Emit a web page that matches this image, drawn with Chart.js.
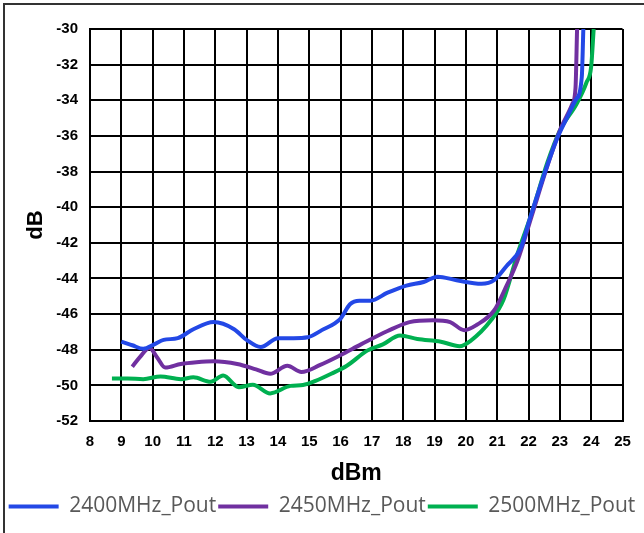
<!DOCTYPE html>
<html lang="en">
<head>
  <meta charset="UTF-8" />
  <title>dB vs dBm</title>
  <style>
    html, body {
      margin: 0;
      background: #ffffff;
    }
    .wrap {
      width: 644px;
      height: 533px;
    }
  </style>
</head>
<body>
  <div class="wrap">
    <canvas id="grafico" width="644" height="533"></canvas>
  </div>

  <script src="https://cdn.jsdelivr.net/npm/chart.js"></script>
  <script>
    // values
    const seriesNames = ['2400MHz_Pout', '2450MHz_Pout', '2500MHz_Pout'];

    const x2400 = [9.0, 9.35, 9.7, 10.05, 10.35, 10.8, 11.3, 11.95, 12.6, 13.0, 13.45, 14.0, 14.5, 14.95, 15.4, 16.0, 16.3, 16.6, 16.95, 17.5, 18.1, 18.65, 19.1, 19.7, 20.5, 20.9, 21.3, 21.75, 22.05, 22.55, 22.9, 23.25, 23.5, 23.7, 23.75];
    const y2400 = [-47.55, -47.75, -47.95, -47.7, -47.45, -47.35, -46.85, -46.45, -46.85, -47.45, -47.85, -47.35, -47.35, -47.3, -46.9, -46.25, -45.45, -45.25, -45.25, -44.8, -44.4, -44.2, -43.9, -44.1, -44.3, -44.1, -43.3, -42.3, -40.6, -37.9, -36.2, -34.9, -34.0, -32.7, -30];

    const x2450 = [9.35, 9.6, 9.9, 10.15, 10.4, 10.9, 11.4, 11.95, 12.7, 13.3, 13.75, 14.3, 14.75, 15.35, 16.0, 16.65, 17.5, 18.2, 18.95, 19.5, 19.95, 20.35, 20.9, 21.3, 21.65, 22.1, 22.6, 23.0, 23.4, 23.5, 23.55];
    const y2450 = [-48.95, -48.4, -47.9, -48.45, -49.0, -48.8, -48.7, -48.65, -48.8, -49.1, -49.35, -48.9, -49.25, -48.85, -48.3, -47.7, -46.95, -46.45, -46.35, -46.45, -46.9, -46.6, -45.8, -44.4, -43.0, -40.5, -37.7, -35.7, -34.2, -33.3, -30];

    const x2500 = [8.7, 9.2, 9.7, 10.25, 10.9, 11.3, 11.85, 12.25, 12.75, 13.2, 13.75, 14.4, 14.8, 15.2, 15.7, 16.2, 16.85, 17.35, 17.9, 18.45, 19.2, 19.8, 20.15, 20.8, 21.2, 21.65, 22.1, 22.6, 23.0, 23.55, 23.85, 24.0, 24.08];
    const y2500 = [-49.62, -49.62, -49.65, -49.5, -49.65, -49.55, -49.8, -49.45, -50.1, -49.97, -50.45, -50.03, -49.98, -49.75, -49.35, -48.9, -48.05, -47.7, -47.2, -47.4, -47.55, -47.8, -47.5, -46.35, -45.2, -42.6, -40.35, -37.5, -35.7, -34.15, -33.0, -32.1, -30];

    const xRange = [8, 25];
    const yRange = [-52, -30];

    const cores = ['#2348e6', '#7030a0', '#00b050'];

    const pontos = (xs, ys) => xs.map((x, i) => ({ x, y: ys[i] }));

    const serie = (nome, xs, ys, cor) => ({
      label: nome,
      data: pontos(xs, ys),
      borderColor: cor,
      backgroundColor: cor,
      borderWidth: 4,
      pointRadius: 0,
      cubicInterpolationMode: 'monotone',
      fill: false
    });

    // moldura externa (só esquerda e topo aparecem no recorte)
    const moldura = {
      id: 'moldura',
      beforeDraw(chart) {
        const c = chart.ctx;
        c.save();
        c.fillStyle = '#ffffff';
        c.fillRect(0, 0, chart.width, chart.height);
        c.strokeStyle = '#333333';
        c.lineWidth = 2;
        c.strokeRect(4, 4, chart.width + 20, chart.height + 20);
        c.restore();
      }
    };

    const ctx = document.getElementById('grafico').getContext('2d');

    new Chart(ctx, {
      type: 'line',
      data: {
        datasets: [
          serie(seriesNames[0], x2400, y2400, cores[0]),
          serie(seriesNames[1], x2450, y2450, cores[1]),
          serie(seriesNames[2], x2500, y2500, cores[2])
        ]
      },
      plugins: [moldura],
      options: {
        responsive: false,
        animation: false,
        layout: {
          padding: { left: 0, right: 0, top: 29, bottom: 6 }
        },
        plugins: {
          tooltip: { enabled: false },
          legend: {
            position: 'bottom',
            labels: {
              usePointStyle: true,
              pointStyle: 'line',
              pointStyleWidth: 50,
              boxWidth: 50,
              boxHeight: 4,
              padding: 2,
              color: '#595959',
              font: { family: "'Open Sans', 'Noto Sans', sans-serif", size: 21 }
            }
          }
        },
        scales: {
          x: {
            type: 'linear',
            min: xRange[0],
            max: xRange[1],
            afterFit: (s) => { s.height = 73; s.paddingRight = 21.5; },
            ticks: {
              stepSize: 1,
              padding: 12,
              color: '#000',
              font: { family: "'Liberation Sans', Arial, sans-serif", size: 15, weight: 'bold' }
            },
            grid: { color: '#000', lineWidth: 2, drawTicks: false },
            border: { color: '#000', width: 2 },
            title: {
              display: true,
              text: 'dBm',
              color: '#000',
              padding: { top: 0, bottom: 7 },
              font: { family: "'Liberation Sans', Arial, sans-serif", size: 23, weight: 'bold' }
            }
          },
          y: {
            min: yRange[0],
            max: yRange[1],
            afterFit: (s) => { s.width = 90; },
            ticks: {
              stepSize: 2,
              padding: 12,
              color: '#000',
              font: { family: "'Liberation Sans', Arial, sans-serif", size: 15, weight: 'bold' }
            },
            grid: { color: '#000', lineWidth: 2, drawTicks: false },
            border: { color: '#000', width: 2 },
            title: {
              display: true,
              text: 'dB',
              color: '#000',
              padding: { top: 23, bottom: 0 },
              font: { family: "'Liberation Sans', Arial, sans-serif", size: 22, weight: 'bold' }
            }
          }
        }
      }
    });
  </script>
</body>
</html>
